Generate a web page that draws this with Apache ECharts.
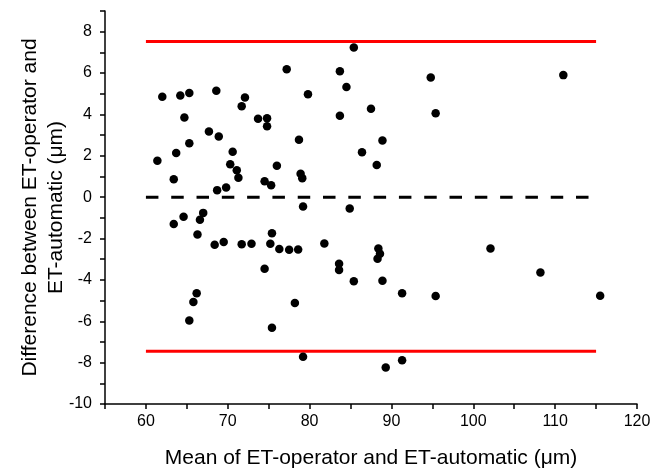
<!DOCTYPE html>
<html>
<head>
<meta charset="utf-8">
<script src="https://cdn.jsdelivr.net/npm/echarts@6/dist/echarts.min.js"></script>
<style>
  html, body { margin: 0; padding: 0; background: #fff; }
  #chart { width: 652px; height: 469px; }
</style>
</head>
<body>
<div id="chart"></div>
<script>
// mean of the two methods (x) and difference (y)
var meanVals = [
  62.0, 64.2, 65.3, 68.6, 72.1, 71.7, 64.7, 73.7, 74.8, 74.8,
  77.2, 79.8, 83.7, 84.5, 83.7, 85.4, 87.5, 67.7, 68.9, 65.3,
  61.4, 63.7, 63.4, 70.6, 70.3, 71.1, 71.3, 68.7, 69.8, 74.5,
  75.3, 76.0, 78.7, 78.9, 79.1, 86.4, 88.2, 88.9, 94.8, 95.4,
  111.0, 79.2, 84.9,
  63.4, 64.6, 66.6, 67.0, 66.3, 68.4, 69.5, 71.7, 72.9, 75.4,
  75.2, 76.3, 77.5, 78.6, 81.8, 74.5, 83.6, 83.6, 85.4, 66.2,
  65.8, 65.3, 78.2, 75.4, 79.2,
  88.4, 88.6, 88.3, 88.9, 91.3, 95.4, 102.1, 108.2, 115.5, 89.3, 91.3
];
var diffVals = [
  4.85, 4.91, 5.04, 5.15, 4.82, 4.40, 3.85, 3.79, 3.82, 3.43,
  6.18, 4.98, 6.09, 5.33, 3.93, 7.23, 4.27, 3.17, 2.93, 2.61,
  1.76, 2.13, 0.86, 2.19, 1.59, 1.30, 0.94, 0.34, 0.47, 0.77,
  0.58, 1.52, 2.77, 1.13, 0.92, 2.17, 1.55, 2.74, 5.78, 4.06,
  5.90, -0.45, -0.55,
  -1.30, -0.95, -1.09, -0.76, -1.80, -2.30, -2.17, -2.28, -2.25, -1.75,
  -2.25, -2.51, -2.54, -2.53, -2.24, -3.46, -3.22, -3.52, -4.06, -4.65,
  -5.07, -5.96, -5.12, -6.31, -7.71,
  -2.48, -2.74, -2.98, -4.04, -4.64, -4.78, -2.48, -3.64, -4.77, -8.23, -7.89
];
// limits of agreement and mean difference, drawn across this x range
var lineRange = [60, 115];
var upperLimit = 7.52;
var lowerLimit = -7.45;
var meanDiff = 0;

var points = [];
for (var i = 0; i < meanVals.length; i++) {
  points.push([meanVals[i], diffVals[i]]);
}
function hline(v) {
  return [[lineRange[0], v], [lineRange[1], v]];
}

var font = 'Liberation Sans, Arial, sans-serif';
var myChart = echarts.init(document.getElementById('chart'));
var option = {
  animation: false,
  grid: { left: 105, right: 15, top: 11, bottom: 65, containLabel: false, outerBoundsMode: 'none' },
  xAxis: {
    type: 'value',
    min: 55, max: 120, interval: 5,
    name: 'Mean of ET-operator and ET-automatic (\u03bcm)',
    nameLocation: 'middle',
    nameGap: 44,
    nameTextStyle: { fontFamily: font, fontSize: 21, color: '#000' },
    axisLine: { show: true, onZero: false, lineStyle: { color: '#000', width: 1.5 } },
    axisTick: { show: true, inside: false, length: 5, lineStyle: { color: '#000', width: 1.5 } },
    axisLabel: {
      fontFamily: font, fontSize: 16, color: '#000', margin: 10,
      formatter: function (v) { return v % 10 === 0 ? v : ''; }
    },
    splitLine: { show: false }
  },
  yAxis: {
    type: 'value',
    min: -10, max: 9, interval: 1,
    name: 'Difference between ET-operator and\nET-automatic (\u03bcm)',
    nameLocation: 'middle',
    nameGap: 36,
    nameMoveOverlap: false,
    nameTextStyle: { fontFamily: font, fontSize: 21, color: '#000', lineHeight: 26 },
    axisLine: { show: true, onZero: false, lineStyle: { color: '#000', width: 1.5 } },
    axisTick: { show: true, inside: false, length: 5, lineStyle: { color: '#000', width: 1.5 } },
    axisLabel: {
      fontFamily: font, fontSize: 16, color: '#000', margin: 13,
      formatter: function (v) { return v % 2 === 0 ? v : ''; }
    },
    splitLine: { show: false }
  },
  series: [
    {
      type: 'line',
      data: hline(upperLimit),
      symbol: 'none',
      lineStyle: { color: '#ff0000', width: 3 },
      z: 2
    },
    {
      type: 'line',
      data: hline(lowerLimit),
      symbol: 'none',
      lineStyle: { color: '#ff0000', width: 3 },
      z: 2
    },
    {
      type: 'line',
      data: hline(meanDiff),
      symbol: 'none',
      lineStyle: { color: '#000', width: 3, type: [12.5, 12.8] },
      z: 2
    },
    {
      type: 'scatter',
      data: points,
      symbol: 'circle',
      symbolSize: 8.5,
      itemStyle: { color: '#000', opacity: 1 },
      z: 3
    }
  ]
};
myChart.setOption(option);
</script>
</body>
</html>
